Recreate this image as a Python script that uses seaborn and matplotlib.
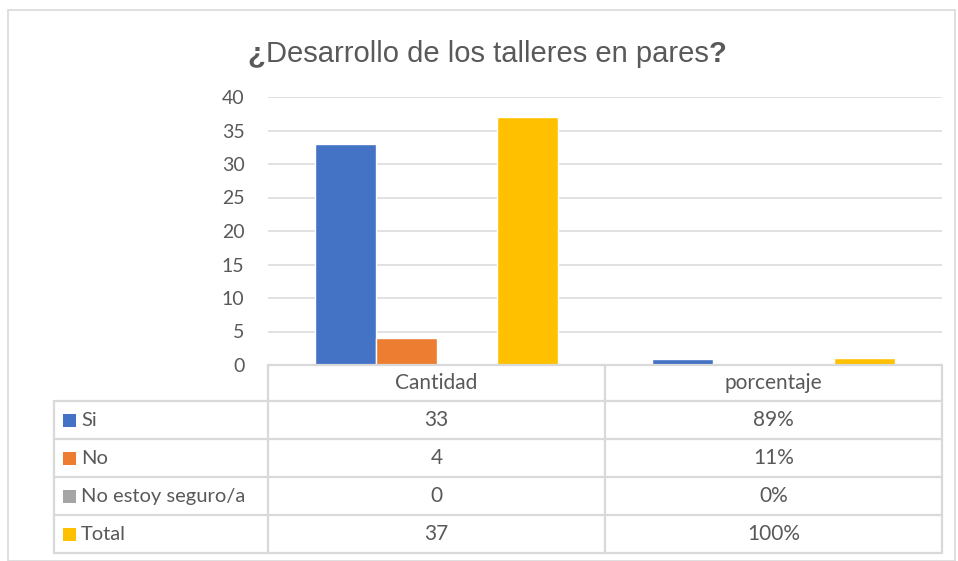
import matplotlib
matplotlib.use("Agg")
import matplotlib.pyplot as plt
import seaborn as sns
import pandas as pd
from matplotlib.patches import Rectangle

categories = ["Cantidad", "porcentaje"]
series = ["Si", "No", "No estoy seguro/a", "Total"]
si_vals = [33, 0.89]
no_vals = [4, 0.11]
ns_vals = [0, 0.0]
total_vals = [37, 1.0]
colors = ["#4472C4", "#ED7D31", "#A5A5A5", "#FFC000"]
title_parts = ["¿", "Desarrollo de los talleres en pares", "?"]
yticks = [0, 5, 10, 15, 20, 25, 30, 35, 40]

vals = {"Si": si_vals, "No": no_vals, "No estoy seguro/a": ns_vals, "Total": total_vals}
rows = []
for s in series:
    for c, v in zip(categories, vals[s]):
        rows.append({"cat": c, "serie": s, "val": v})
df = pd.DataFrame(rows)

sns.set_theme(style="white")
plt.rcParams["font.family"] = ["Lato", "DejaVu Sans"]
TXT = "#595959"
GRID = "#D9D9D9"

W, H = 958, 561
fig = plt.figure(figsize=(W / 100, H / 100), dpi=100)

def fx(x):
    return x / W

def fy(y):
    return 1 - y / H

ax = fig.add_axes([fx(268), fy(365), (942 - 268) / W, (365 - 97) / H])
sns.barplot(data=df, x="cat", y="val", hue="serie", hue_order=series, order=categories,
            palette=colors, width=0.724, ax=ax, legend=False, saturation=1)
ax.set_ylim(0, 40)
ax.set_yticks(yticks)
ax.set_yticklabels([str(t) for t in yticks], fontsize=14, color=TXT)
ax.set_xticks([])
ax.set_xlabel("")
ax.set_ylabel("")
ax.tick_params(axis="y", length=0, pad=17)
ax.set_xlim(-0.5, 1.5)
for t in yticks[1:]:
    ax.axhline(t, color=GRID, lw=1.1, zorder=0)
for sp in ax.spines.values():
    sp.set_visible(False)
ax.set_axisbelow(True)

# overlay axes in pixel coordinates for table and frame
ov = fig.add_axes([0, 0, 1, 1], facecolor="none")
ov.set_xlim(0, W)
ov.set_ylim(H, 0)
ov.axis("off")

ov.add_patch(Rectangle((8.5, 9.5), 947, 551, fill=False, ec="#D9D9D9", lw=1.2))

# title: bold inverted/closing question marks, regular text between
tfam = ["Liberation Sans", "DejaVu Sans"]
weights = ["bold", "normal", "bold"]
texts = [ov.text(0, 62, p, ha="left", va="baseline", fontsize=21, color=TXT,
                 family=tfam, fontweight=w) for p, w in zip(title_parts, weights)]
renderer = fig.canvas.get_renderer()
widths = [t.get_window_extent(renderer).width for t in texts]
xstart = 487 - sum(widths) / 2
for t, w in zip(texts, widths):
    t.set_x(xstart)
    xstart += w

lw = 1.6
x0, x1, x2, x3 = 54, 268, 605, 942
row_y = [365, 401, 439, 477, 515, 553]
ov.plot([x1, x3], [row_y[0], row_y[0]], color=GRID, lw=lw)
for y in row_y[1:]:
    ov.plot([x0, x3], [y, y], color=GRID, lw=lw)
for x in (x1, x2, x3):
    ov.plot([x, x], [row_y[0], row_y[-1]], color=GRID, lw=lw)
ov.plot([x0, x0], [row_y[1], row_y[-1]], color=GRID, lw=lw)

col_c = [(x1 + x2) / 2, (x2 + x3) / 2]
hy = (row_y[0] + row_y[1]) / 2
for c, cx in zip(categories, col_c):
    ov.text(cx, hy, c, ha="center", va="center", fontsize=15, color=TXT)

for i, s in enumerate(series):
    yc = (row_y[i + 1] + row_y[i + 2]) / 2
    ov.add_patch(Rectangle((63, yc - 6.5), 13, 13, color=colors[i], lw=0))
    ov.text(81, yc, s, ha="left", va="center", fontsize=14.5, color=TXT)
    v = vals[s]
    ov.text(col_c[0], yc, f"{v[0]:g}", ha="center", va="center", fontsize=15, color=TXT)
    ov.text(col_c[1], yc, f"{round(v[1] * 100):d}%", ha="center", va="center", fontsize=15, color=TXT)

fig.savefig("out.png", dpi=100)
